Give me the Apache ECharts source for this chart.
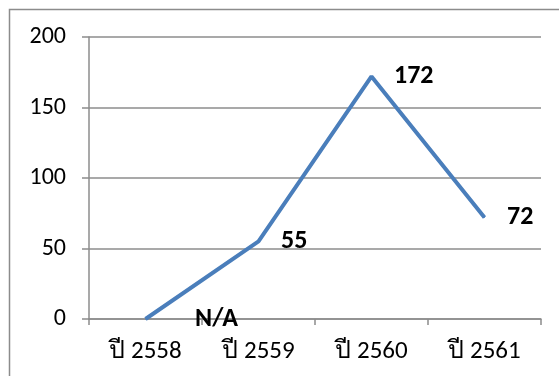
<!DOCTYPE html>
<html>
<head>
    <meta charset="UTF-8">
    <title>chart</title>
    <style>
        html, body { margin: 0; padding: 0; background: #fff; }
        #main { width: 559px; height: 376px; }
    </style>
</head>
<body>
<div id="main"></div>
<script src="https://cdn.jsdelivr.net/npm/echarts@6/dist/echarts.min.js"></script>
<script>
    // data
    var years = ['ปี 2558', 'ปี 2559', 'ปี 2560', 'ปี 2561'];
    var values = [0, 55, 172, 72];
    var pointLabels = ['N/A', '55', '172', '72'];

    var font = 'Calibri, Carlito, "Open Sans", "Noto Sans", "DejaVu Sans", sans-serif';

    // first point (N/A) has its label pushed further right
    var seriesData = values.map(function (v, i) {
        return i === 0 ? { value: v, label: { distance: 49 } } : v;
    });

    var myChart = echarts.init(document.getElementById('main'));
    var option = {
        animation: false,
        graphic: [{
            type: 'rect',
            shape: { x: 9.5, y: 9.5, width: 600, height: 400 },
            style: { fill: 'none', stroke: '#8c8c8c', lineWidth: 1.5 },
            silent: true
        }],
        grid: { left: 89, right: 18, top: 37, bottom: 57 },
        xAxis: {
            type: 'category',
            data: years,
            boundaryGap: true,
            axisLine: { lineStyle: { color: '#8c8c8c', width: 1.5 } },
            axisTick: { show: true, length: 6, lineStyle: { color: '#8c8c8c', width: 1.5 } },
            axisLabel: { color: '#000', fontSize: 25, fontFamily: font, margin: 20 },
            splitLine: { show: false }
        },
        yAxis: {
            type: 'value',
            min: 0,
            max: 200,
            interval: 50,
            axisLine: { show: true, lineStyle: { color: '#8c8c8c', width: 1.5 } },
            axisTick: { show: true, length: 7, inside: false, lineStyle: { color: '#8c8c8c', width: 1.5 } },
            axisLabel: { color: '#000', fontSize: 24, fontFamily: font, margin: 23 },
            splitLine: { show: true, lineStyle: { color: '#8c8c8c', width: 1.5 } }
        },
        series: [{
            type: 'line',
            data: seriesData,
            symbol: 'circle',
            symbolSize: 1,
            showSymbol: true,
            itemStyle: { color: '#4a7ebb' },
            lineStyle: { color: '#4a7ebb', width: 4 },
            label: {
                show: true,
                position: 'right',
                distance: 22,
                color: '#000',
                fontSize: 26,
                fontWeight: 'bold',
                fontFamily: font,
                formatter: function (p) { return pointLabels[p.dataIndex]; }
            }
        }]
    };
    myChart.setOption(option);
</script>
</body>
</html>
